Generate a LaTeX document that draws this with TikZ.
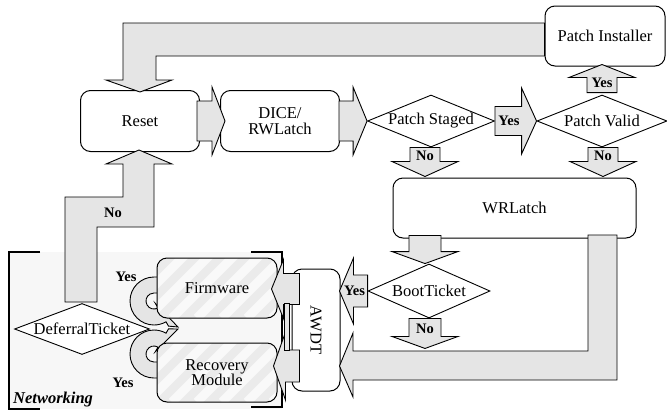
\documentclass[tikz,border=0pt]{standalone}
\usepackage{fontspec}
\setmainfont{Liberation Serif}
\usetikzlibrary{shapes.geometric,calc}

\newcommand{\mainsize}{\fontsize{16.5}{15.5}\selectfont}
\newcommand{\lblsize}{\fontsize{14.5}{16}\selectfont\bfseries}

% straight block arrow: tail, tip, half shaft, half head, head length
\newcommand{\blockarrow}[5]{%
  \path #1 coordinate (ta) #2 coordinate (tb);
  \path ($(tb)!#5pt!(ta)$) coordinate (hb);
  \draw[blk] ($(ta)!#3pt!90:(tb)$) -- ($(hb)!#3pt!90:(tb)$) -- ($(hb)!#4pt!90:(tb)$)
    -- (tb) -- ($(hb)!#4pt!-90:(tb)$) -- ($(hb)!#3pt!-90:(tb)$)
    -- ($(ta)!#3pt!-90:(tb)$) -- cycle;}

\begin{document}
\begin{tikzpicture}[x=1pt,y=1pt,
  state/.style={draw, line width=1pt, fill=white, rounded corners=10pt, inner sep=0pt, align=center, font=\mainsize},
  test/.style={draw, line width=0.9pt, fill=white, diamond, inner sep=0pt},
  hatched/.style={fill=gray!16, path picture={
    \foreach \k in {0,...,8}
      \draw[gray!5, line width=9pt] ($(path picture bounding box.south west)+(\k*25-60,0)$) -- ++(80,80);}},
  blk/.style={draw, line width=0.9pt, fill=gray!20},
  lbl/.style={font=\lblsize, inner sep=0pt},
  every label/.style={font=\mainsize, inner sep=0pt}]
\useasboundingbox (0,0) rectangle (667,-413);

% networking zone
\fill[gray!6] (9,-252) rectangle (282,-409);
\draw[line width=2.4pt] (40,-252) -- (9,-252) -- (9,-409) -- (40,-409);
\draw[line width=2.4pt] (251,-252) -- (282,-252) -- (282,-407) -- (251,-407);
\node[font=\mainsize\bfseries\itshape, anchor=base west, inner sep=0pt] (netlbl) at (13,-403) {Networking};

% curved yes arrows
\coordinate (c1) at (154,-301);
\coordinate (c2) at (154,-354);
\draw[blk] ($(c1)+(8,24)$) -- ($(c1)+(0,24)$) arc[start angle=90, end angle=300, radius=24]
  -- ($(c1)+(300:29)$) -- (178,-327) -- ($(c1)+(300:3)$) -- ($(c1)+(300:8)$)
  arc[start angle=300, end angle=90, radius=8] -- ($(c1)+(8,8)$) -- cycle;
\draw[blk] ($(c2)+(8,-24)$) -- ($(c2)+(0,-24)$) arc[start angle=270, end angle=60, radius=24]
  -- ($(c2)+(60:29)$) -- (178,-329) -- ($(c2)+(60:3)$) -- ($(c2)+(60:8)$)
  arc[start angle=60, end angle=270, radius=8] -- ($(c2)+(8,-8)$) -- cycle;

% nodes
\node[state, minimum width=119pt, minimum height=61pt] (reset) at (140,-121) {Reset};
\node[state, minimum width=119pt, minimum height=61pt] (dice) at (280,-121) {DICE/\\RWLatch};
\node[test, minimum width=127pt, minimum height=52pt, label={center:Patch Staged}] (staged) at (431,-121) {};
\node[test, minimum width=130pt, minimum height=52pt, label={center:Patch Valid}] (valid) at (602,-121) {};
\node[state, minimum width=120pt, minimum height=60pt] (inst) at (605,-36) {Patch Installer};
\node[state, minimum width=243pt, minimum height=60pt] (wr) at (514.5,-208) {WRLatch};
\node[test, minimum width=122pt, minimum height=54pt, label={center:BootTicket}] (boot) at (429,-291) {};
\node[state, minimum width=48pt, minimum height=122pt, label={[rotate=-90]center:AWDT}] (awdt) at (316,-330) {};
\node[state, hatched, minimum width=120pt, minimum height=60pt] (firm) at (217,-288) {Firmware};
\node[state, hatched, minimum width=120pt, minimum height=59pt] (recov) at (217,-372.5) {Recovery\\Module};
\node[test, minimum width=135pt, minimum height=51pt, label={center:DeferralTicket}] (defer) at (82,-329) {};

% straight arrows
\blockarrow{($(reset.east)+(-3,0)$)}{($(dice.west)+(5,0)$)}{20}{34}{13}
\blockarrow{($(dice.east)+(-1,0)$)}{(staged.west)}{20}{34}{14}
\blockarrow{(staged.east)}{(valid.west)}{14.5}{33}{15}
\blockarrow{($(valid.north)+(0,2)$)}{($(valid.north |- inst.south)+(0,2)$)}{15}{33}{13}
\blockarrow{($(staged.south)+(-6,0)$)}{($(staged.south |- wr.north)+(-6,1)$)}{15}{33}{15}
\blockarrow{($(valid.south)+(1,0)$)}{($(valid.south |- wr.north)+(1,1)$)}{15}{33}{15}
\blockarrow{($(boot.north |- wr.south)+(-4,3)$)}{($(boot.north)+(-4,0)$)}{16}{33}{12}
\blockarrow{($(boot.south)+(-4,0)$)}{($(boot.south)+(-4,-30)$)}{16}{33}{12}
\blockarrow{(boot.west)}{($(boot.west -| awdt.east)+(-1,0)$)}{16}{33}{14}
\blockarrow{($(awdt.west |- firm.east)+(8,-1)$)}{($(firm.east)+(-6,-1)$)}{15.5}{29.5}{12}
\blockarrow{($(awdt.west |- recov.east)+(8,6.5)$)}{($(recov.east)+(-4,6.5)$)}{16}{34}{12}
\draw[blk] (284,-303) rectangle (289,-350);

% bent arrows
\draw[blk] ($(inst.west)+(0,13)$) -- (123,-23) -- (123,-80) -- (106,-80) -- ($(reset.north)+(0,-2)$)
  -- (172,-80) -- (156,-80) -- (156,-56) -- ($(inst.west)+(0,-20)$) -- cycle;
\draw[blk] (588,-235) -- (617,-235) -- (617,-380) -- (353,-380) -- (353,-397)
  -- ($(awdt.east)+(-1,-36)$) -- (353,-333) -- (353,-351) -- (588,-351) -- cycle;
\draw[blk] (65,-302) -- (65,-197) -- (123,-197) -- (123,-164) -- (106,-164) -- ($(reset.south)+(-1,2)$)
  -- (172,-164) -- (154,-164) -- (154,-227) -- (97,-227) -- (97,-302) -- cycle;

% labels
\node[lbl] (ystaged) at ($(staged.east)+(14,0)$) {Yes};
\node[lbl] (yvalid) at ($(valid.north)+(0,12)$) {Yes};
\node[lbl] (nstaged) at ($(staged.south)+(-6,-8)$) {No};
\node[lbl] (nvalid) at ($(valid.south)+(1,-8)$) {No};
\node[lbl] (nboot) at ($(boot.south)+(-4,-10)$) {No};
\node[lbl] (yboot) at ($(boot.west)+(-13,0)$) {Yes};
\node[lbl] (ndefer) at (113,-213) {No};
\node[lbl] (yfirm) at (126,-277) {Yes};
\node[lbl] (yrecov) at (123,-383) {Yes};
\end{tikzpicture}
\end{document}
